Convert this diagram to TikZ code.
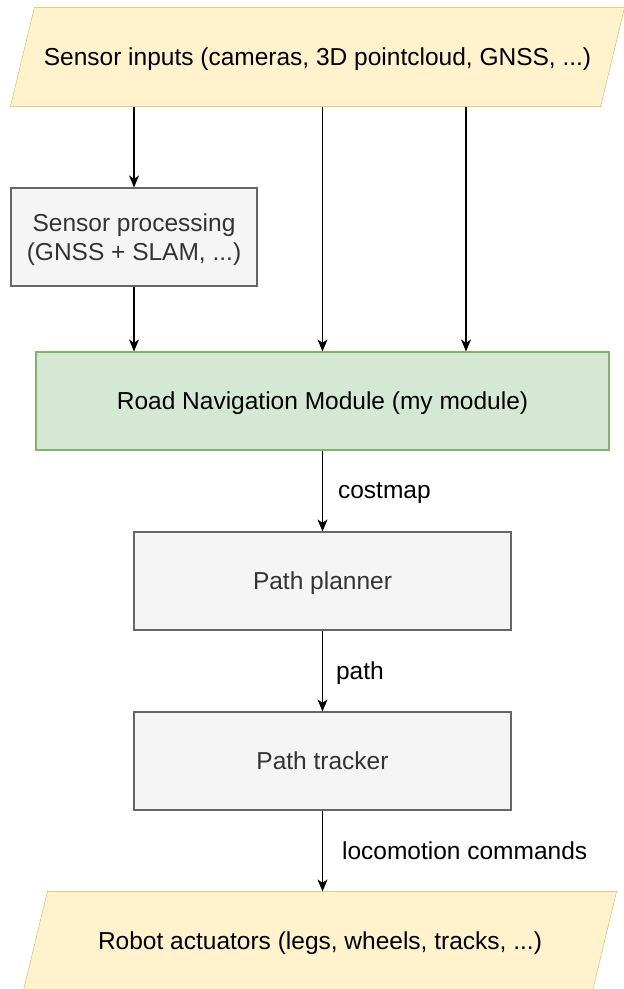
\documentclass[tikz,border=0pt]{standalone}
\usepackage{fontspec}
\setmainfont{Liberation Sans}
\usetikzlibrary{arrows.meta, backgrounds}

\definecolor{iofill}{HTML}{FFF2CC}
\definecolor{ioline}{HTML}{D6B656}
\definecolor{modfill}{HTML}{D5E8D4}
\definecolor{modline}{HTML}{82B366}
\definecolor{boxfill}{HTML}{F5F5F5}
\definecolor{boxline}{HTML}{666666}
\definecolor{boxtext}{HTML}{333333}

\begin{document}
\begin{tikzpicture}[x=1pt, y=-1pt, font=\fontsize{24.5}{29}\selectfont, line width=1.2pt,
  every node/.style={text depth=0pt},
  io/.style={rectangle, text=black, minimum height=98pt, inner sep=0pt},
  iobox/.style={draw=ioline, fill=iofill, line join=miter},
  box/.style={rectangle, draw=boxline, fill=boxfill, text=boxtext, align=center, minimum height=98pt, inner sep=0pt},
  flow/.style={draw=black, -{Stealth[length=12pt, width=10pt, inset=3.5pt]}},
  lbl/.style={anchor=west, inner sep=0pt, text=black}]
\useasboundingbox (0,0) rectangle (624,989);

% inputs and pre-processing
\node[io, minimum width=589pt] (inp) at (317.5,57) {Sensor inputs (cameras, 3D pointcloud, GNSS, ...)};
\node[box, minimum width=246pt] (proc) at (134,237) {Sensor processing\\(GNSS + SLAM, ...)};

% main module and downstream chain
\node[rectangle, draw=modline, fill=modfill, minimum width=573pt, minimum height=98pt] (nav) at (322.5,401) {Road Navigation Module (my module)};
\node[box, minimum width=377pt] (plan) at (322.5,581) {Path planner};
\node[box, minimum width=377pt] (track) at (322.5,761) {Path tracker};
\node[io, minimum width=568pt] (act) at (320,941) {Robot actuators (legs, wheels, tracks, ...)};

% slanted outlines behind the io nodes
\begin{scope}[on background layer]
\foreach \n in {inp, act}
  \draw[iobox] ([xshift=-12pt]\n.south west) -- ([xshift=-12pt]\n.south east)
    -- ([xshift=12pt]\n.north east) -- ([xshift=12pt]\n.north west) -- cycle;
\end{scope}

\coordinate (raw) at (466,0);

% connections
\draw[flow] (inp.south -| proc.north) -- (proc.north);
\draw[flow] (proc.south) -- (proc.south |- nav.north);
\draw[flow] (inp.south -| nav.north) -- (nav.north);
\draw[flow] (inp.south -| raw) -- (nav.north -| raw);
\draw[flow] (nav.south) -- node[lbl, xshift=15pt] {costmap} (plan.north);
\draw[flow] (plan.south) -- node[lbl, xshift=13pt] {path} (track.north);
\draw[flow] (track.south) -- node[lbl, xshift=19pt] {locomotion commands} (track.south |- act.north);
\end{tikzpicture}
\end{document}
